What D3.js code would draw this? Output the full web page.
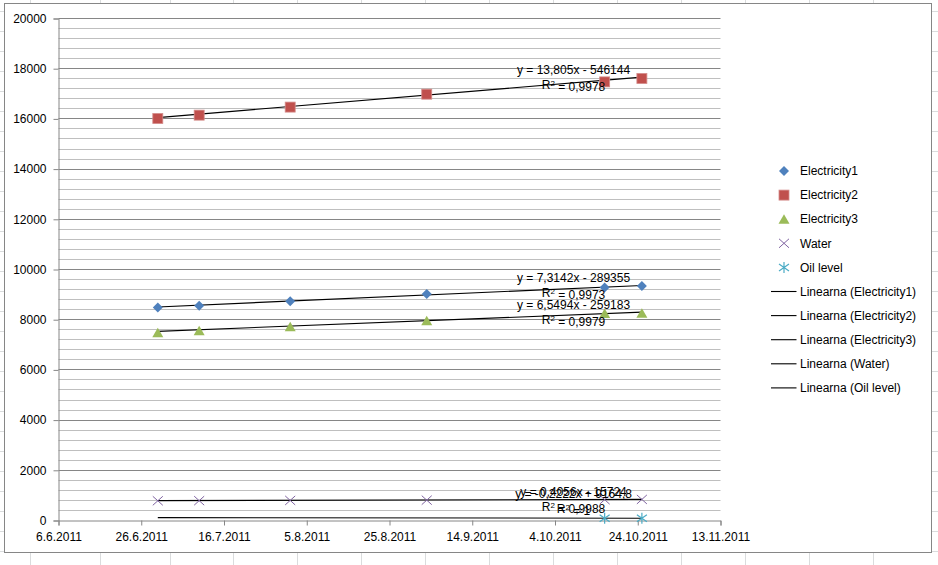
<!DOCTYPE html>
<html>
<head>
<meta charset="utf-8">
<script src="https://cdn.jsdelivr.net/npm/d3@7"></script>
<style>
  body { margin: 0; background: #fff; }
  svg { display: block; font-family: "Liberation Sans", Arial, sans-serif; }
</style>
</head>
<body>
<div id="chart"></div>
<script>
// measurement dates
var dates = ["2011-06-30", "2011-07-10", "2011-08-01", "2011-09-03", "2011-10-16", "2011-10-25"];

// series values
var electricity1 = [8490, 8555, 8740, 9020, 9285, 9340];
var electricity2 = [16015, 16150, 16470, 16985, 17475, 17610];
var electricity3 = [7480, 7560, 7720, 7955, 8250, 8260];
var water = [785, 790, 800, 810, 830, 840];
var oilLevel = [null, null, null, null, 92, 90];

var seriesNames = ["Electricity1", "Electricity2", "Electricity3", "Water", "Oil level"];

// linear trendlines as shown on the chart (x = excel date serial)
var trendSlope = [7.3142, 13.805, 6.5494, 0.4056, -0.2222];
var trendIntercept = [-289355, -546144, -259183, -15724, 9164.8];
var trendR2 = ["0,9973", "0,9978", "0,9979", "0,9988", "1"];

// axis ticks
var xTicks = ["2011-06-06", "2011-06-26", "2011-07-16", "2011-08-05", "2011-08-25",
              "2011-09-14", "2011-10-04", "2011-10-24", "2011-11-13"];
var yTicks = [0, 2000, 4000, 6000, 8000, 10000, 12000, 14000, 16000, 18000, 20000];

var W = 938, H = 565;
var margin = {top: 18.5, left: 58.5, right: 217.5, bottom: 44.5};
var width = W - margin.left - margin.right,
    height = H - margin.top - margin.bottom;

var parse = d3.utcParse("%Y-%m-%d");
var serial = function(d) { return (d - Date.UTC(1899, 11, 30)) / 86400000; };
var fmtNum = function(v) { return String(v).replace(".", ","); };

var x = d3.scaleUtc()
    .domain([parse(xTicks[0]), parse(xTicks[xTicks.length - 1])])
    .range([0, width]);
var y = d3.scaleLinear()
    .domain([0, 20000])
    .range([height, 0]);

var svg = d3.select("#chart").append("svg")
    .attr("width", W)
    .attr("height", H);

// spreadsheet cells behind the chart
var bg = svg.append("g").attr("stroke", "#dadcdd").attr("stroke-width", 1);
d3.range(-8.5, H, 20).forEach(function(r) {
  bg.append("line").attr("x1", 0).attr("x2", W).attr("y1", r).attr("y2", r);
});
[30.5, 100.5, 170.5, 233.5, 297.5, 361.5, 425.5, 489.5, 553.5, 617.5, 681.5, 745.5, 809.5, 873.5].forEach(function(c) {
  bg.append("line").attr("x1", c).attr("x2", c).attr("y1", 0).attr("y2", H);
});

// chart area
svg.append("rect")
    .attr("x", 4.5).attr("y", 3.5)
    .attr("width", 927).attr("height", 549)
    .attr("fill", "#fff")
    .attr("stroke", "#868686");

var g = svg.append("g")
    .attr("transform", "translate(" + margin.left + "," + margin.top + ")");

// minor gridlines every 400
g.append("g").selectAll("line")
    .data(d3.range(400, 20000, 400).filter(function(v) { return v % 2000 !== 0; }))
  .enter().append("line")
    .attr("x1", 0).attr("x2", width)
    .attr("y1", function(d) { return Math.round(y(d)); })
    .attr("y2", function(d) { return Math.round(y(d)); })
    .attr("stroke", "#bfbfbf");

// major gridlines
g.append("g").selectAll("line")
    .data(yTicks.slice(1))
  .enter().append("line")
    .attr("x1", 0).attr("x2", width)
    .attr("y1", function(d) { return Math.round(y(d)); })
    .attr("y2", function(d) { return Math.round(y(d)); })
    .attr("stroke", "#868686");

// y axis
var yAxis = g.append("g")
    .call(d3.axisLeft(y).tickValues(yTicks).tickSize(5).tickPadding(7).tickFormat(d3.format("d")));
yAxis.selectAll("path, line").attr("stroke", "#868686");
yAxis.selectAll("text").attr("font-size", 12).attr("fill", "#000")
    .attr("font-family", "Liberation Sans, Arial, sans-serif");

// x axis
var xAxis = g.append("g")
    .attr("transform", "translate(0," + height + ")")
    .call(d3.axisBottom(x).tickValues(xTicks.map(parse)).tickSize(5).tickPadding(7)
      .tickFormat(d3.utcFormat("%-d.%-m.%Y")));
xAxis.selectAll("path, line").attr("stroke", "#868686");
xAxis.selectAll("text").attr("font-size", 12).attr("fill", "#000")
    .attr("font-family", "Liberation Sans, Arial, sans-serif");

var allSeries = [electricity1, electricity2, electricity3, water, oilLevel];
var colors = ["#4f81bd", "#c0504d", "#9bbb59", "#8064a2", "#4bacc6"];
var symbols = ["diamond", "square", "triangle", "cross", "star"];

// trendlines from first to last date
var t0 = parse(dates[0]), t1 = parse(dates[dates.length - 1]);
allSeries.forEach(function(s, i) {
  var f = function(t) { return trendSlope[i] * serial(t) + trendIntercept[i]; };
  g.append("line")
      .attr("x1", x(t0)).attr("y1", y(f(t0)))
      .attr("x2", x(t1)).attr("y2", y(f(t1)))
      .attr("stroke", "#000").attr("stroke-width", 1.1);
});

function drawMarker(sel, type, color) {
  if (type === "diamond") {
    sel.append("path").attr("d", "M0,-5L5,0L0,5L-5,0Z").attr("fill", color);
  } else if (type === "square") {
    sel.append("rect").attr("x", -5).attr("y", -5).attr("width", 10).attr("height", 10)
        .attr("fill", color).attr("stroke", "#d48c8a").attr("stroke-width", 0.8);
  } else if (type === "triangle") {
    sel.append("path").attr("d", "M0,-5L5.5,4.5L-5.5,4.5Z").attr("fill", color);
  } else if (type === "cross") {
    sel.append("path").attr("d", "M-5,-4.5L5,4.5M-5,4.5L5,-4.5")
        .attr("stroke", color).attr("stroke-width", 1).attr("fill", "none");
  } else if (type === "star") {
    sel.append("path").attr("d", "M0,-5.5V5.5M-5,-3.5L5,3.5M-5,3.5L5,-3.5")
        .attr("stroke", color).attr("stroke-width", 1.2).attr("fill", "none");
  }
}

// markers
allSeries.forEach(function(s, i) {
  var pts = dates.map(function(d, j) { return {t: parse(d), v: s[j]}; })
      .filter(function(p) { return p.v !== null; });
  g.append("g").selectAll("g")
      .data(pts)
    .enter().append("g")
      .attr("transform", function(p) { return "translate(" + x(p.t) + "," + y(p.v) + ")"; })
      .each(function() { drawMarker(d3.select(this), symbols[i], colors[i]); });
});

// trendline equation labels (they overlap near the bottom, as in the original)
var labelDate = parse("2011-10-08");
var eqDy = [-10.5, -13, -10, -7.6, -24];
var r2Dy = [4.5, 2, 5, 7.4, -9];
allSeries.forEach(function(s, i) {
  var ty = y(trendSlope[i] * serial(labelDate) + trendIntercept[i]);
  var eq = "y = " + fmtNum(trendSlope[i]) + "x " + (trendIntercept[i] < 0 ? "- " : "+ ") +
      fmtNum(Math.abs(trendIntercept[i]));
  g.append("text")
      .attr("x", x(labelDate) + 2).attr("y", ty + eqDy[i])
      .attr("dy", "0.35em").attr("text-anchor", "middle")
      .attr("font-size", 12).attr("fill", "#000")
      .text(eq);
  var r = g.append("text")
      .attr("x", x(labelDate) + 2).attr("y", ty + r2Dy[i])
      .attr("dy", "0.35em").attr("text-anchor", "middle")
      .attr("font-size", 12).attr("fill", "#000");
  r.append("tspan").text("R");
  r.append("tspan").attr("dy", "-0.4em").attr("font-size", 8).text("2");
  r.append("tspan").attr("dy", "0.4em").text(" = " + trendR2[i]);
});

// legend
var legend = svg.append("g").attr("transform", "translate(784,171)");
var rowH = 24.1;
seriesNames.forEach(function(name, i) {
  var row = legend.append("g").attr("transform", "translate(0," + (i * rowH) + ")");
  drawMarker(row, symbols[i], colors[i]);
  row.append("text").attr("x", 16).attr("dy", "0.35em")
      .attr("font-size", 12).attr("fill", "#000").text(name);
});
seriesNames.forEach(function(name, i) {
  var row = legend.append("g").attr("transform", "translate(0," + ((i + 5) * rowH) + ")");
  row.append("line").attr("x1", -13).attr("x2", 12.5).attr("stroke", "#000").attr("stroke-width", 1.1);
  row.append("text").attr("x", 16).attr("dy", "0.35em")
      .attr("font-size", 12).attr("fill", "#000").text("Linearna (" + name + ")");
});
</script>
</body>
</html>
